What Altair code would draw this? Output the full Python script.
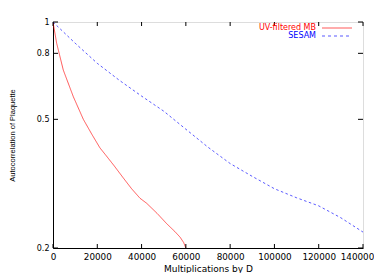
import altair as alt
import pandas as pd

# Data
red_x = [0, 1650, 4650, 9200, 13700, 17500, 21200, 23500, 27500, 31800, 35500, 39300, 42300, 47000, 51300, 55000, 57400, 59000, 60000]
red_y = [1.0, 0.86, 0.71, 0.587, 0.50, 0.45, 0.408, 0.39, 0.36, 0.329, 0.305, 0.285, 0.275, 0.256, 0.238, 0.225, 0.216, 0.208, 0.2]

blue_x = [0, 10000, 20000, 30000, 40000, 50000, 60000, 70000, 80000, 90000, 100000, 110000, 120000, 130000, 140000]
blue_y = [1.0, 0.86, 0.745, 0.66, 0.59, 0.53, 0.466, 0.41, 0.365, 0.333, 0.305, 0.286, 0.27, 0.248, 0.224]

series_names = ["UV-filtered MB", "SESAM"]
series_colors = ["#ff0000", "#0000ff"]

x_ticks = [0, 20000, 40000, 60000, 80000, 100000, 120000, 140000]
y_ticks = [0.2, 0.5, 0.8, 1.0]

W, H = 310, 226
FONT = "Liberation Sans"
WFONT = "DejaVu Sans"

df = pd.concat([
    pd.DataFrame({"x": red_x, "y": red_y, "s": series_names[0]}),
    pd.DataFrame({"x": blue_x, "y": blue_y, "s": series_names[1]}),
])

xscale = alt.Scale(domain=[0, 140000], nice=False, zero=False)
yscale = alt.Scale(type="log", domain=[0.2, 1.0], nice=False)

xax = alt.Axis(values=x_ticks, format="d", grid=False, ticks=False, labelPadding=4,
               labelFontSize=8.8, labelFont=WFONT, labelColor="#000", domainColor="#000",
               labelOverlap=False, labelFlush=False,
               labelOffset={"condition": {"test": "datum.value == 140000", "value": -6}, "value": 0},
               title="Multiplications by D", titleFont=WFONT, titleFontSize=9,
               titleFontWeight="normal", titleY=20, titleBaseline="middle", titleColor="#000")
yax = alt.Axis(values=y_ticks, format="~g", grid=False, ticks=False, labelPadding=4,
               labelFontSize=8, labelFont=WFONT, labelColor="#000", domainColor="#000",
               labelOverlap=False, labelFlush=False,
               title="Autocorrelation of Plaquette", titleFont=FONT, titleFontSize=7.5,
               titleFontWeight="normal", titleX=-41, titleY=H / 2, titleAngle=-90,
               titleBaseline="middle", titleAlign="center", titleColor="#000")

base = alt.Chart(df)

lines = base.mark_line(strokeWidth=1, clip=True, opacity=0.65).encode(
    x=alt.X("x:Q", scale=xscale, axis=xax),
    y=alt.Y("y:Q", scale=yscale, axis=yax),
    color=alt.Color("s:N", scale=alt.Scale(domain=series_names, range=series_colors), legend=None),
    strokeDash=alt.StrokeDash("s:N", scale=alt.Scale(domain=series_names, range=[[1, 0], [2.5, 2.5]]), legend=None),
)

xt = pd.DataFrame({"x": x_ticks})
yt = pd.DataFrame({"y": y_ticks})
tick_bottom = alt.Chart(xt).mark_rule(color="#000", strokeWidth=1).encode(
    x=alt.X("x:Q", scale=xscale), y=alt.value(H), y2=alt.value(H - 4))
tick_top = alt.Chart(xt).mark_rule(color="#000", strokeWidth=1).encode(
    x=alt.X("x:Q", scale=xscale), y=alt.value(0), y2=alt.value(4))
tick_left = alt.Chart(yt).mark_rule(color="#000", strokeWidth=1).encode(
    y=alt.Y("y:Q", scale=yscale), x=alt.value(0), x2=alt.value(5))
tick_right = alt.Chart(yt).mark_rule(color="#000", strokeWidth=1).encode(
    y=alt.Y("y:Q", scale=yscale), x=alt.value(W), x2=alt.value(W - 5))

# Legend (gnuplot style: text then sample line)
leg_layers = []
row_y = [6, 14]
dashes = [[1, 0], [3, 3]]
for i, name in enumerate(series_names):
    ld = pd.DataFrame({"s": [name]})
    leg_layers.append(alt.Chart(ld).mark_text(align="right", baseline="middle", fontSize=8,
                                              font=WFONT, color=series_colors[i]).encode(
        text="s:N", x=alt.value(263), y=alt.value(row_y[i])))
    leg_layers.append(alt.Chart(ld).mark_rule(color=series_colors[i], strokeWidth=1, opacity=0.65,
                                              strokeDash=dashes[i]).encode(
        x=alt.value(269), x2=alt.value(299), y=alt.value(row_y[i])))

chart = alt.layer(lines, tick_bottom, tick_top, tick_left, tick_right, *leg_layers).properties(
    width=W, height=H,
    autosize=alt.AutoSizeParams(type="none"),
    padding={"left": 45, "top": 14, "right": 11, "bottom": 25},
).configure_view(stroke="#999", strokeWidth=1.5).configure(background="white")

chart.save("out.html", embed_options={"renderer": "svg", "actions": False})
